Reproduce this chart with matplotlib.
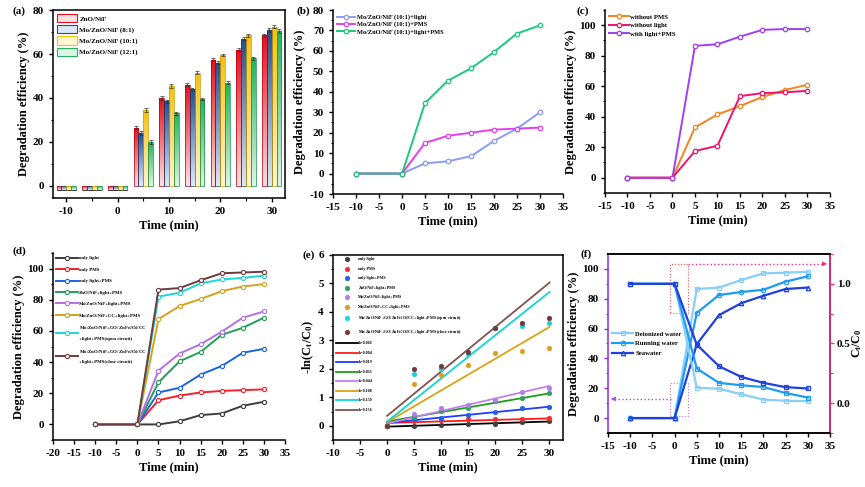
import numpy as np
import matplotlib
matplotlib.use('Agg')
import matplotlib.pyplot as plt
from matplotlib.colors import LinearSegmentedColormap
from matplotlib.patches import Patch, Rectangle
from matplotlib.ticker import MultipleLocator

plt.rcParams['font.family'] = ['Liberation Serif', 'DejaVu Serif']
plt.rcParams['font.weight'] = 'bold'
plt.rcParams['axes.labelweight'] = 'bold'
plt.rcParams['mathtext.fontset'] = 'custom'
plt.rcParams['mathtext.rm'] = 'Liberation Serif:bold'
plt.rcParams['mathtext.it'] = 'Liberation Serif:bold'
plt.rcParams['mathtext.default'] = 'rm'
plt.rcParams['axes.unicode_minus'] = False
plt.rcParams['xtick.direction'] = 'out'
plt.rcParams['ytick.direction'] = 'out'
plt.rcParams['xtick.labelsize'] = 8
plt.rcParams['ytick.labelsize'] = 8
plt.rcParams['axes.labelsize'] = 9
plt.rcParams['axes.linewidth'] = 1.1

# ---- (a) bar data ----
bar_times = [-10, -5, 0, 5, 10, 15, 20, 25, 30]
bar_names = ['ZnO/NiF', 'Mo/ZnO/NiF (8:1)', 'Mo/ZnO/NiF (10:1)', 'Mo/ZnO/NiF (12:1)']
bar_zno = [-2, -2, -2, 26.5, 40, 46, 57.5, 62, 68.5]
bar_81 = [-2, -2, -2, 24, 38.5, 44, 56, 67, 71]
bar_101 = [-2, -2, -2, 34.5, 45.5, 51.5, 59.5, 68.5, 72.5]
bar_121 = [-2, -2, -2, 20, 33, 39.5, 47, 58, 70.5]
bar_err = [0, 0, 0, 0.8, 0.8, 0.6, 0.6, 0.8, 0.8]

# ---- (b) ----
t_line = [-10, 0, 5, 10, 15, 20, 25, 30]
b_names = ['Mo/ZnO/NiF (10:1)+light', 'Mo/ZnO/NiF (10:1)+PMS', 'Mo/ZnO/NiF (10:1)+light+PMS']
b_light = [0, 0, 5, 6, 8.5, 16, 22, 30]
b_pms = [0, 0, 15, 18.5, 20, 21.5, 22, 22.5]
b_both = [0, 0, 34.5, 45.5, 51.5, 59.5, 68.5, 72.5]

# ---- (c) ----
c_names = ['without PMS', 'without light', 'with light+PMS']
c_nopms = [0, 0, 33, 41.5, 47, 53, 57.5, 61]
c_nolight = [0, 0, 17.5, 21, 53.5, 55.5, 56, 57]
c_both = [0, 0, 86.5, 87.5, 92.5, 97, 97.5, 97.5]

# ---- (d) ----
d_names = ['only light', 'only PMS', 'only light+PMS', 'ZnO/NiF+light+PMS',
           'Mo/ZnO/NiF+light+PMS', 'Mo/ZnO/NiF+CC+light+PMS',
           'Mo/ZnO/NiF+GO/ZnFe$_2$O$_4$/CC\n+light+PMS(open circuit)',
           'Mo/ZnO/NiF+GO/ZnFe$_2$O$_4$/CC\n+light+PMS(close circuit)']
d_only_light = [0, 0, 0, 2, 6, 7, 12, 14.5]
d_only_pms = [0, 0, 15.5, 18.5, 20.5, 21.5, 22, 22.5]
d_light_pms = [0, 0, 20.5, 23.5, 32, 37.5, 46, 48.5]
d_zno = [0, 0, 27, 40.5, 46.5, 57.5, 62, 68.5]
d_mo = [0, 0, 34.5, 45.5, 51.5, 59.5, 68.5, 72.5]
d_cc = [0, 0, 67.5, 76, 80.5, 85.5, 88.5, 90]
d_open = [0, 0, 82, 84.5, 90.5, 93, 94, 95.5]
d_close = [0, 0, 86.5, 87.5, 92.5, 97, 97.5, 98]

# ---- (e) ----
t_kin = [0, 5, 10, 15, 20, 25, 30]
e_names = ['only light', 'only PMS', 'only light+PMS', 'ZnO/NiF+light+PMS',
           'Mo/ZnO/NiF+light+PMS', 'Mo/ZnO/NiF+CC+light+PMS',
           'Mo/ZnO/NiF+GO/ZnFe$_2$O$_4$/CC+light+PMS (open circuit)',
           'Mo/ZnO/NiF+GO/ZnFe$_2$O$_4$/CC+light+PMS (close circuit)']
e_only_light = [0, 0.0, 0.02, 0.06, 0.07, 0.13, 0.16]
e_only_pms = [0, 0.17, 0.2, 0.23, 0.24, 0.25, 0.26]
e_light_pms = [0, 0.23, 0.27, 0.38, 0.47, 0.61, 0.66]
e_zno = [0, 0.31, 0.52, 0.63, 0.86, 0.97, 1.16]
e_mo = [0, 0.42, 0.61, 0.73, 0.91, 1.17, 1.31]
e_cc = [0, 1.48, 1.78, 2.15, 2.55, 2.63, 2.72]
e_open = [0, 1.82, 2.0, 2.52, 3.42, 3.52, 3.6]
e_close = [0, 2.0, 2.1, 2.6, 3.45, 3.62, 3.78]
k_labels = ['k=0.006', 'k=0.004', 'k=0.019', 'k=0.033', 'k=0.044', 'k=0.108', 'k=0.150', 'k=0.156']
fit_t = [0, 30]
fit_start = [-0.03, 0.1, 0.1, 0.15, 0.08, 0.13, 0.15, 0.35]
fit_end = [0.15, 0.26, 0.67, 1.14, 1.4, 3.47, 4.7, 5.03]

# ---- (f) ----
f_names = ['Deionized water', 'Running water', 'Seawater']
f_deg_di = [0, 0, 86.5, 87.5, 92.5, 97, 97.5, 98]
f_deg_run = [0, 0, 70.5, 82.5, 84.5, 86, 91.5, 95]
f_deg_sea = [0, 0, 49.5, 69, 77, 82, 86.5, 87.5]
f_c_di = [1.0, 1.0, 0.13, 0.12, 0.075, 0.03, 0.02, 0.017]
f_c_run = [1.0, 1.0, 0.29, 0.17, 0.15, 0.135, 0.085, 0.047]
f_c_sea = [1.0, 1.0, 0.49, 0.31, 0.22, 0.17, 0.134, 0.123]


def style_ticks(ax):
    ax.tick_params(which='major', length=3, width=1)
    ax.tick_params(which='minor', length=1.8, width=0.8)


def open_spines(ax):
    ax.spines['top'].set_visible(False)
    ax.spines['right'].set_visible(False)


fig = plt.figure(figsize=(8.65, 4.87), dpi=100)

# ================= (a) =================
ax = fig.add_axes([0.0613, 0.5934, 0.2682, 0.386])
bar_series = [bar_zno, bar_81, bar_101, bar_121]
bar_top = ['#e8101c', '#23508f', '#f5c10e', '#22b35c']
bar_bot = ['#fde0e0', '#dde8f6', '#fff6d2', '#dcf6e4']
bar_edge = ['#b00010', '#1a3c6e', '#c89a00', '#168a45']
w = 0.95
xs = np.array(bar_times, dtype=float)
for i, vals in enumerate(bar_series):
    bars = ax.bar(xs + (i - 1.5) * w, vals, width=w, facecolor='none',
                  edgecolor=bar_edge[i], linewidth=0.5, zorder=3)
    cmap = LinearSegmentedColormap.from_list('g%d' % i, [bar_bot[i], bar_top[i]])
    for b in bars:
        x0, y0 = b.get_xy()
        h = b.get_height()
        grad = np.linspace(0, 1, 64).reshape(-1, 1)
        im = ax.imshow(grad, extent=[x0, x0 + w, min(y0, y0 + h), max(y0, y0 + h)],
                       origin='lower', cmap=cmap, aspect='auto', zorder=2)
        im.set_clip_path(b)
    ax.errorbar(xs + (i - 1.5) * w, vals, yerr=bar_err, fmt='none', ecolor='#333333',
                elinewidth=0.5, capsize=1.2, capthick=0.5, zorder=4)
ax.set_xlim(-12.6, 32.6)
ax.set_ylim(-5.5, 80)
ax.set_xticks([-10, 0, 10, 20, 30])
ax.xaxis.set_minor_locator(MultipleLocator(5))
ax.yaxis.set_major_locator(MultipleLocator(20))
ax.yaxis.set_minor_locator(MultipleLocator(10))
ax.set_xlabel('Time (min)', labelpad=2)
ax.set_ylabel('Degradation efficiency (%)', labelpad=2)
style_ticks(ax)
handles = [Patch(facecolor=bar_bot[i], edgecolor=bar_top[i], linewidth=0.8) for i in range(4)]
ax.legend(handles, bar_names, loc='upper left', bbox_to_anchor=(0.0, 1.0), frameon=False,
          fontsize=5, handlelength=2.9, handleheight=1.4, labelspacing=0.45,
          handletextpad=0.3, borderaxespad=0.2)

# ================= (b) =================
ax = fig.add_axes([0.385, 0.6016, 0.2659, 0.3778])
b_colors = ['#8a9cf5', '#e040ef', '#1cc879']
for vals, col, nm in zip([b_light, b_pms, b_both], b_colors, b_names):
    ax.plot(t_line, vals, '-o', color=col, lw=1.4, ms=3.2, mfc='white', mec=col, mew=0.9, label=nm)
ax.set_xlim(-15, 35)
ax.set_ylim(-10, 80)
ax.xaxis.set_major_locator(MultipleLocator(5))
ax.yaxis.set_major_locator(MultipleLocator(10))
ax.yaxis.set_minor_locator(MultipleLocator(5))
ax.set_xlabel('Time (min)', labelpad=2)
ax.set_ylabel('Degradation efficiency (%)', labelpad=2)
open_spines(ax)
style_ticks(ax)
ax.legend(loc='upper left', frameon=False, fontsize=4.6, handlelength=2.7,
          labelspacing=0.2, handletextpad=0.3, borderaxespad=0.3)

# ================= (c) =================
ax = fig.add_axes([0.6994, 0.6037, 0.2601, 0.3758])
c_colors = ['#f58220', '#f0106e', '#a23ef2']
for vals, col, nm in zip([c_nopms, c_nolight, c_both], c_colors, c_names):
    ax.plot(t_line, vals, '-o', color=col, lw=1.4, ms=3.2, mfc='white', mec=col, mew=0.9, label=nm)
ax.set_xlim(-15, 35)
ax.set_ylim(-10, 110)
ax.xaxis.set_major_locator(MultipleLocator(5))
ax.yaxis.set_major_locator(MultipleLocator(20))
ax.yaxis.set_minor_locator(MultipleLocator(10))
ax.set_xlabel('Time (min)', labelpad=2)
ax.set_ylabel('Degradation efficiency (%)', labelpad=2)
open_spines(ax)
style_ticks(ax)
ax.legend(loc='upper left', frameon=False, fontsize=4.9, handlelength=2.9,
          labelspacing=0.4, handletextpad=0.2, borderaxespad=0.2)

# ================= (d) =================
ax = fig.add_axes([0.0613, 0.0965, 0.2682, 0.384])
d_series = [d_only_light, d_only_pms, d_light_pms, d_zno, d_mo, d_cc, d_open, d_close]
d_colors = ['#3c3c3c', '#f2202a', '#1565e6', '#20a055', '#b46ee6', '#d6a21a', '#1ed6d6', '#6e3c3c']
for vals, col, nm in zip(d_series, d_colors, d_names):
    ax.plot(t_line, vals, '-o', color=col, lw=1.4, ms=3.0, mfc='white', mec=col, mew=0.8, label=nm)
ax.set_xlim(-20, 35)
ax.set_ylim(-10, 110)
ax.xaxis.set_major_locator(MultipleLocator(5))
ax.yaxis.set_major_locator(MultipleLocator(20))
ax.yaxis.set_minor_locator(MultipleLocator(10))
ax.set_xlabel('Time (min)', labelpad=2)
ax.set_ylabel('Degradation efficiency (%)', labelpad=2)
open_spines(ax)
style_ticks(ax)
leg = ax.legend(loc='upper left', frameon=False, fontsize=3.5, handlelength=4.5,
                labelspacing=1.45, handletextpad=0.2, borderaxespad=0.2)
for t in leg.get_texts():
    t.set_linespacing(2.6)

# ================= (e) =================
ax = fig.add_axes([0.385, 0.0965, 0.2659, 0.3799])
e_series = [e_only_light, e_only_pms, e_light_pms, e_zno, e_mo, e_cc, e_open, e_close]
e_line_colors = ['#000000', '#ff1a1a', '#1f3cff', '#1a9e1a', '#c080f0', '#d9a40f', '#10d4d4', '#80524f']
e_pt_colors = ['#404040', '#f03030', '#2060e0', '#30a060', '#b080e8', '#d8a020', '#20d0e0', '#703838']
pt_handles = []
for vals, col, nm in zip(e_series, e_pt_colors, e_names):
    h = ax.scatter(t_kin, vals, s=12, color=col, edgecolor=col, linewidth=0.3, zorder=3, label=nm)
    pt_handles.append(h)
ln_handles = []
for i in range(8):
    h, = ax.plot(fit_t, [fit_start[i], fit_end[i]], color=e_line_colors[i], lw=1.3, zorder=2,
                 label=k_labels[i])
    ln_handles.append(h)
ax.set_xlim(-10, 32.5)
ax.set_ylim(-0.5, 6)
ax.xaxis.set_major_locator(MultipleLocator(5))
ax.yaxis.set_major_locator(MultipleLocator(1))
ax.yaxis.set_minor_locator(MultipleLocator(0.5))
ax.set_xlabel('Time (min)', labelpad=2)
ax.set_ylabel('-ln(C$_t$/C$_0$)', labelpad=2)
style_ticks(ax)
ax.legend(pt_handles + ln_handles, e_names + k_labels, loc='upper left', frameon=False,
          fontsize=3.0, handlelength=5.3, labelspacing=1.32, handletextpad=0.2,
          borderaxespad=0.1, borderpad=0.5, scatterpoints=1)

# ================= (f) =================
ax = fig.add_axes([0.7029, 0.1109, 0.2566, 0.3676])
ax2 = ax.twinx()
f_colors = ['#87cef8', '#1e9cf0', '#1f3fe0']
f_marks = ['s', 'o', '^']
for vals, col, mk, nm in zip([f_deg_di, f_deg_run, f_deg_sea], f_colors, f_marks, f_names):
    ax.plot(t_line, vals, '-', marker=mk, color=col, lw=1.6, ms=3.2, mfc='none', mec=col, mew=0.9, label=nm)
for vals, col in zip([f_c_di, f_c_run, f_c_sea], f_colors):
    ax2.plot(t_line, vals, '-s', color=col, lw=1.6, ms=3.2, mfc='none', mec=col, mew=0.9)
ax.set_xlim(-15, 35)
ax.set_ylim(-10, 110)
ax2.set_ylim(-0.25, 1.25)
ax.xaxis.set_major_locator(MultipleLocator(5))
ax.yaxis.set_major_locator(MultipleLocator(20))
ax.yaxis.set_minor_locator(MultipleLocator(10))
ax2.set_yticks([0.0, 0.5, 1.0])
ax2.yaxis.set_minor_locator(MultipleLocator(0.25))
ax.set_xlabel('Time (min)', labelpad=2)
ax.set_ylabel('Degradation efficiency (%)', labelpad=2)
ax2.set_ylabel('C$_t$/C$_0$', labelpad=0, fontsize=8.5)
purple = '#8a2be2'
pink = '#ff2a8a'
ax.spines['left'].set_color(purple)
ax2.spines['left'].set_visible(False)
ax2.spines['right'].set_color(pink)
style_ticks(ax)
style_ticks(ax2)
ax.tick_params(axis='y', which='both', colors=purple, labelcolor='black')
ax2.tick_params(axis='y', which='both', colors=pink, labelcolor='black', pad=2)
# dotted highlight boxes and arrows
ax.add_patch(Rectangle((-1, 70.5), 4, 33, fill=False, ls=':', ec='#ff5050', lw=0.8, zorder=1))
ax.add_patch(Rectangle((-1, 1.6), 4, 22, fill=False, ls=':', ec='#b870f0', lw=0.8, zorder=1))
ax.plot([3, 33.5], [103.4, 103.4], ls=':', color=pink, lw=1.0, clip_on=False)
ax.annotate('', xy=(35, 103.4), xytext=(33, 103.4), annotation_clip=False,
            arrowprops=dict(arrowstyle='-|>', color=pink, lw=0.8, mutation_scale=6))
ax.plot([-0.7, -13.5], [12.8, 12.8], ls=':', color='#a050e8', lw=1.0, clip_on=False)
ax.annotate('', xy=(-15, 12.8), xytext=(-13, 12.8), annotation_clip=False,
            arrowprops=dict(arrowstyle='-|>', color='#a050e8', lw=0.8, mutation_scale=6))
ax.legend(loc='center left', bbox_to_anchor=(0.0, 0.5), frameon=False, fontsize=4.8,
          handlelength=3.2, labelspacing=0.6, handletextpad=0.3, borderaxespad=0.2)

# panel letters
for x, y, s in [(0.014, 0.977, '(a)'), (0.343, 0.977, '(b)'), (0.666, 0.977, '(c)'),
                (0.015, 0.484, '(d)'), (0.350, 0.476, '(e)'), (0.671, 0.478, '(f)')]:
    fig.text(x, y, s, fontsize=8, fontweight='bold', va='center')

fig.savefig('out.png', dpi=100)
